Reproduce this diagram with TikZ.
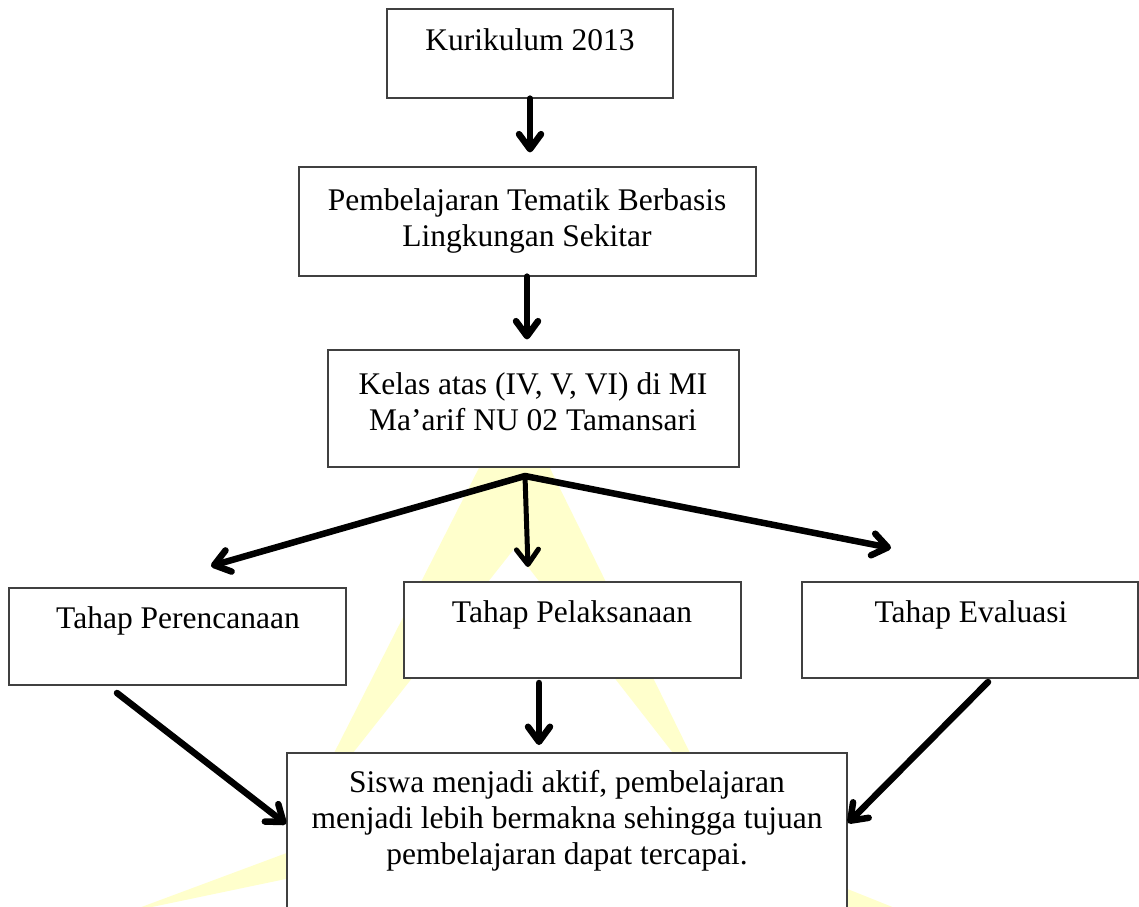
\documentclass[tikz,border=0pt]{standalone}
\usepackage{fontspec}
\setmainfont{Liberation Serif}
\usetikzlibrary{arrows.meta}
\definecolor{wm}{RGB}{255,255,204}
\begin{document}
\begin{tikzpicture}[x=1pt,y=-1pt,
  box/.style={draw=black!75, line width=1.2pt, fill=white, inner sep=0pt},
  txt/.style={font=\fontsize{31.5}{36}\selectfont, align=center, anchor=north, inner sep=0pt},
  arr/.style={line width=6.5pt, line cap=round, -{Straight Barb[length=15pt,width=22pt,round]}},
  arrthin/.style={arr, line width=5pt},
]
\useasboundingbox (0,0) rectangle (1139,906);
\clip (0,0) rectangle (1139,906);
% watermark
\fill[wm] (300,820) -- (515,397) -- (719,812) -- (514,549) -- cycle;
\fill[wm] (128,912) -- (300,848) -- (300,876) -- cycle;
\fill[wm] (835,884) -- (905,912) -- (835,912) -- cycle;
% boxes
\node[box, minimum width=286pt, minimum height=89pt] (k) at (530,53.5) {};
\node[box, minimum width=457pt, minimum height=109pt] (p) at (527.5,221.5) {};
\node[box, minimum width=411pt, minimum height=117pt] (l) at (533.5,408.5) {};
\node[box, minimum width=337pt, minimum height=97pt] (t1) at (177.5,636.5) {};
\node[box, minimum width=337pt, minimum height=96pt] (t2) at (572.5,630) {};
\node[box, minimum width=336pt, minimum height=96pt] (t3) at (970,630) {};
\node[box, minimum width=560pt, minimum height=187pt] (s) at (567,846.5) {};
% texts
\node[txt] (kt) at (530,24.8) {\strut Kurikulum 2013};
\node[txt] (pt) at (527,184.8) {\strut Pembelajaran Tematik Berbasis\\Lingkungan Sekitar};
\node[txt] (lt) at (533,368.8) {\strut Kelas atas (IV, V, VI) di MI\\Ma’arif NU 02 Tamansari};
\node[txt] (t1t) at (178,602.8) {\strut Tahap Perencanaan};
\node[txt] (t2t) at (572,596.8) {\strut Tahap Pelaksanaan};
\node[txt] (t3t) at (971,596.8) {\strut Tahap Evaluasi};
\node[txt] (st) at (567,766.8) {\strut Siswa menjadi aktif, pembelajaran\\menjadi lebih bermakna sehingga tujuan\\pembelajaran dapat tercapai.};
% connector points
\coordinate (o) at (525,476);
\coordinate (tl) at (211,566);
\coordinate (tm) at (528,567);
\coordinate (tr) at (891,548);
\coordinate (s1) at (117,693);
\coordinate (s2) at (539,683);
\coordinate (s3) at (988,682);
\coordinate (b1) at (286,824);
\coordinate (b2) at (539,745);
\coordinate (b3) at (848,823);
% arrows
\draw[arr, shorten >=14pt] (k.south) -- (k.south |- p.north);
\draw[arr, shorten >=10pt] ([xshift=-0.5pt]p.south) -- ([xshift=-0.5pt]p.south |- l.north);
\draw[arr] (o) -- (tl);
\draw[arrthin] (o) -- (tm);
\draw[arr] (o) -- (tr);
\draw[arr] (s1) -- (b1);
\draw[arr] (s2) -- (b2);
\draw[arr] (s3) -- (b3);
\end{tikzpicture}
\end{document}
